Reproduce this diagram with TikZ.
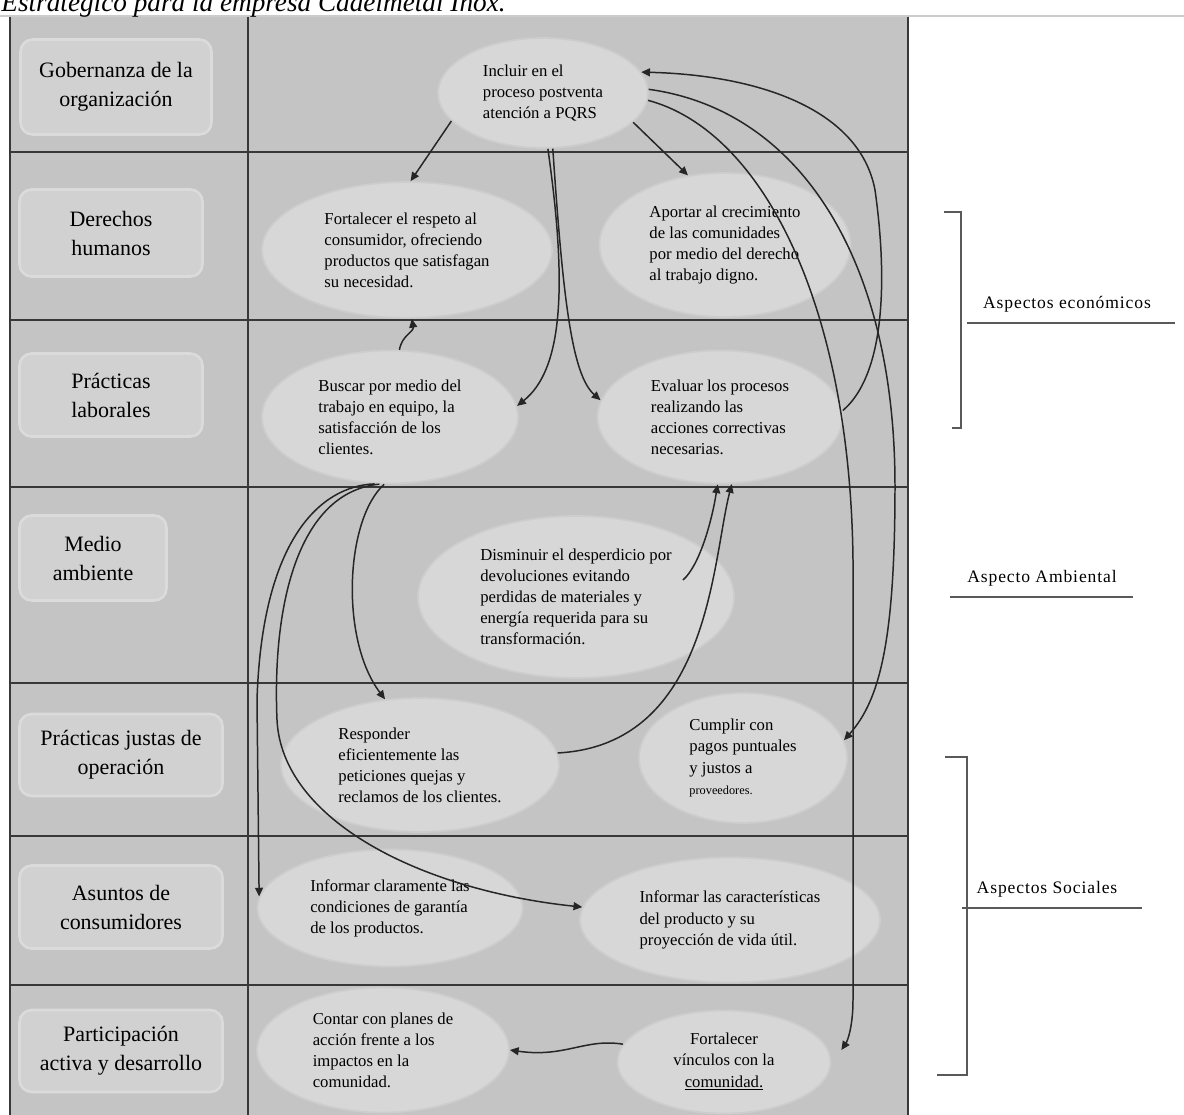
\documentclass[tikz,border=0pt]{standalone}
\usepackage{fontspec}
\setmainfont{Liberation Serif}
\newfontfamily\widefont[LetterSpace=5]{Liberation Serif}
\usetikzlibrary{shapes.geometric,arrows.meta}

\definecolor{tablegray}{HTML}{C4C4C4}
\definecolor{bubblegray}{HTML}{D7D7D7}
\definecolor{bubbleedge}{HTML}{CDCDCD}
\definecolor{boxgray}{HTML}{D1D1D1}
\definecolor{boxedge}{HTML}{DBDBDB}
\definecolor{inkgray}{HTML}{262626}

\tikzset{
    area/.style 2 args={rectangle, rounded corners=7pt, fill=boxgray, draw=boxedge, line width=1.5pt, align=center, minimum width=#1*0.02cm, minimum height=#2*0.02cm, font=\fontsize{12.5}{16.5}\selectfont},
    bubble/.style 2 args={ellipse, fill=bubblegray, draw=bubbleedge, line width=1pt, inner sep=0pt, align=left, minimum width=#1*0.02cm, minimum height=#2*0.02cm, font=\fontsize{9.5}{12}\selectfont},
    link/.style={draw=inkgray, line width=0.85pt, -{Triangle[length=5pt,width=4.5pt]}},
    grid/.style={draw=black!78, line width=1pt},
    brace/.style={draw=black!65, line width=0.8pt},
    aspect/.style={font=\widefont\fontsize{10}{12}\selectfont},
}

\begin{document}
\begin{tikzpicture}[x=0.02cm,y=-0.02cm]
    \useasboundingbox (0,0) rectangle (1184,1115);
    \draw[black!20, line width=0.8pt] (0,16) -- (1184,16);
    \fill[tablegray] (9,17) rectangle (908,1115);
    \node[anchor=base east, inner sep=0pt, font=\fontsize{15.5}{18}\selectfont\itshape] (titulo) at (506,12) {Estratégico para la empresa Cadelmetal Inox.};
    \foreach \y in {152,320,487,683,836,985} {
        \draw[grid] (9,\y) -- (908,\y);
    }
    \foreach \x in {10,248,908} {
        \draw[grid] (\x,17) -- (\x,1115);
    }

    \node[area={191}{95}] (gob) at (116,87) {Gobernanza de la\\organización};
    \node[area={183}{87}] (der) at (111,233) {Derechos\\humanos};
    \node[area={183}{83}] (lab) at (111,395) {Prácticas\\laborales};
    \node[area={147}{85}] (amb) at (93,558) {Medio\\ambiente};
    \node[area={203}{82}] (jus) at (121,755) {Prácticas justas de\\operación};
    \node[area={203}{83}] (con) at (121,907) {Asuntos de\\consumidores};
    \node[area={203}{82}] (par) at (121,1051) {Participación\\activa y desarrollo};

    \node[bubble={210}{110}] (postventa) at (543,93) {Incluir en el\\proceso postventa\\atención a PQRS};
    \node[bubble={290}{136}] (respeto) at (407,250) {Fortalecer el respeto al\\consumidor, ofreciendo\\productos que satisfagan\\su necesidad.};
    \node[bubble={251}{144}] (crecimiento) at (725,245) {Aportar al crecimiento\\de las comunidades\\por medio del derecho\\al trabajo digno.};
    \node[bubble={256}{133}] (equipo) at (390,417) {Buscar por medio del\\trabajo en equipo, la\\satisfacción de los\\clientes.};
    \node[bubble={245}{133}] (evaluar) at (720,417) {Evaluar los procesos\\realizando las\\acciones correctivas\\necesarias.};
    \node[bubble={316}{162}] (desperdicio) at (576,597) {Disminuir el desperdicio por\\devoluciones evitando\\perdidas de materiales y\\energía requerida para su\\transformación.};
    \node[bubble={278}{134}] (responder) at (420,765) {Responder\\eficientemente las\\peticiones quejas y\\reclamos de los clientes.};
    \node[bubble={208}{130}] (pagos) at (743,758) {Cumplir con\\pagos puntuales\\y justos a\\{\fontsize{7}{9}\selectfont proveedores.}};
    \node[bubble={265}{117}] (garantia) at (390,908) {Informar claramente las\\condiciones de garantía\\de los productos.};
    \node[bubble={300}{125}] (vidautil) at (730,920) {Informar las características\\del producto y su\\proyección de vida útil.};
    \node[bubble={252}{125}] (planes) at (383,1050) {Contar con planes de\\acción frente a los\\impactos en la\\comunidad.};
    \node[bubble={213}{103}, align=center] (vinculos) at (724,1062) {Fortalecer\\vínculos con la\\\underline{comunidad.}};

    \draw[link] (postventa.197) -- (respeto.87);
    \draw[link] (postventa.-18) -- (crecimiento.118);
    \draw[link] (postventa.-85) .. controls (568,290) and (562,370) .. (equipo.5);
    \draw[link] (postventa.-80) .. controls (563,300) and (572,375) .. (evaluar.172);
    \draw[link] (evaluar.3) .. controls (890,370) and (885,260) .. (875,190) .. controls (860,110) and (760,75) .. (postventa.12);
    \draw[link] (postventa.2) .. controls (800,110) and (895,260) .. (895,486) .. controls (895,640) and (880,700) .. (pagos.10);
    \draw[link] (postventa.-4) .. controls (760,130) and (850,300) .. (853,560) -- (853,1000) .. controls (853,1025) and (848,1040) .. ([shift={(10,-12)}]vinculos.east);
    \draw[link] (equipo.82) .. controls (402,335) and (414,332) .. (respeto.-86);
    \draw[link] ([shift={(107,-17)}]desperdicio.center) .. controls (700,565) and (712,520) .. (evaluar.-92);
    \draw[link] (responder.5) .. controls (710,745) and (712,560) .. (evaluar.-80);
    \draw[link] (equipo.-95) .. controls (345,520) and (340,640) .. (responder.118);
    \draw[link] (equipo.-103) .. controls (320,486) and (262,540) .. (257,700) -- (garantia.175);
    \draw[link] (equipo.-99) .. controls (300,492) and (272,600) .. (277,720) .. controls (282,820) and (420,890) .. (vidautil.175);
    \draw[link] (vinculos.170) .. controls (585,1038) and (565,1058) .. (planes.east);

    \draw[brace] (944,212) -- (961,212) -- (961,428) -- (952,428);
    \node[aspect] (economicos) at (1067,304) {Aspectos económicos};
    \draw[brace] (967,323) -- (1175,323);
    \node[aspect] (ambiental) at (1042,578) {Aspecto Ambiental};
    \draw[brace] (950,597) -- (1133,597);
    \draw[brace] (945,757) -- (967,757) -- (967,1075) -- (937,1075);
    \node[aspect] (sociales) at (1047,889) {Aspectos Sociales};
    \draw[brace] (962,908) -- (1142,908);
\end{tikzpicture}
\end{document}
